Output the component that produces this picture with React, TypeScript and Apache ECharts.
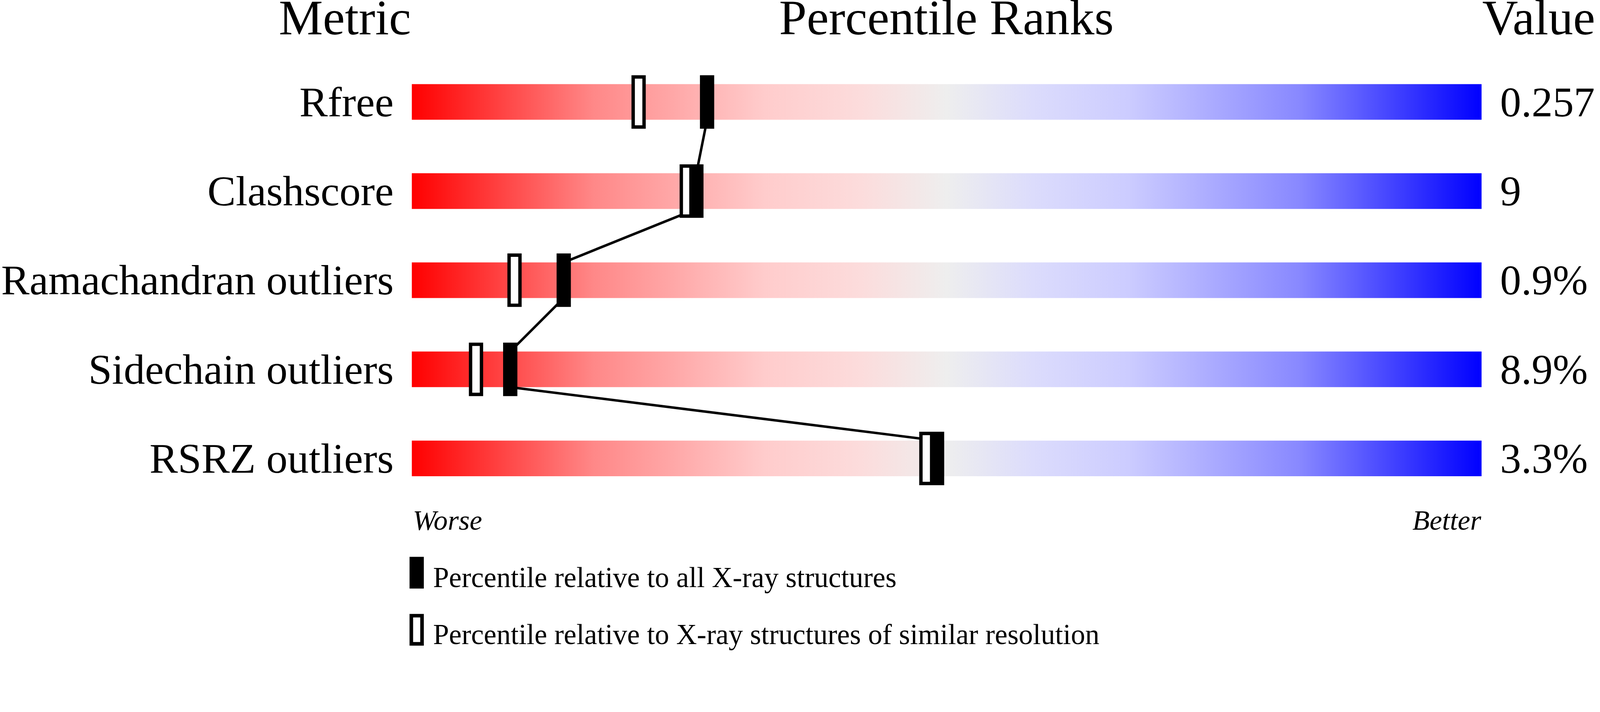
import React, { useEffect, useRef } from 'react';
import * as echarts from 'echarts';

// metric rows, top to bottom
const metrics = ['Rfree', 'Clashscore', 'Ramachandran outliers', 'Sidechain outliers', 'RSRZ outliers'];
const metricValues = ['0.257', '9', '0.9%', '8.9%', '3.3%'];
// percentile ranks
const pctAll = [27.6, 26.6, 14.2, 9.2, 49.1];
const pctSimilar = [21.2, 25.7, 9.6, 6.0, 48.1];
const fullScale = [100, 100, 100, 100, 100];
const legendLabels = [
  'Percentile relative to all X-ray structures',
  'Percentile relative to X-ray structures of similar resolution',
];

const FONT = '"Liberation Serif", "Times New Roman", serif';
const REF_W = 4485;

const App: React.FC = () => {
  const chartRef = useRef<HTMLDivElement>(null);

  useEffect(() => {
    if (!chartRef.current) return;
    const chart = echarts.init(chartRef.current, undefined, { renderer: 'svg' });
    // layout was measured on the 4485px picture; scale to the real css width
    const s = chartRef.current.clientWidth / REF_W;
    const k = (v: number) => v * s;

    const gradient = new echarts.graphic.LinearGradient(0, 0, 1, 0, [
      { offset: 0, color: '#ff0000' },
      { offset: 0.17, color: '#ff8888' },
      { offset: 0.33, color: '#ffcccc' },
      { offset: 0.42, color: '#fcdcdc' },
      { offset: 0.5, color: '#eeeeee' },
      { offset: 0.58, color: '#dcdcfc' },
      { offset: 0.67, color: '#ccccff' },
      { offset: 0.83, color: '#8888ff' },
      { offset: 1, color: '#0000ff' },
    ]);

    const links = pctAll.slice(0, -1).map((p, i) => [p, i, pctAll[i + 1], i + 1]);

    const label = (size: number, margin: number) => ({
      fontSize: k(size),
      fontFamily: FONT,
      color: '#000',
      margin: k(margin),
      padding: [k(20), 0, 0, 0],
    });

    const text = (str: string, x: number, baseline: number, size: number, align: string, italic = false) => ({
      type: 'text',
      x: k(x),
      y: k(baseline - 0.3375 * size),
      style: {
        text: str,
        fontSize: k(size),
        fontStyle: italic ? 'italic' : 'normal',
        fontFamily: FONT,
        fill: '#000',
        textAlign: align,
        textVerticalAlign: 'middle',
      },
    });

    const option = {
      animation: false,
      grid: { left: k(1153), right: k(332), top: k(161), height: k(1250) },
      xAxis: { type: 'value', min: 0, max: 100, show: false },
      yAxis: [
        {
          type: 'category',
          data: metrics,
          inverse: true,
          axisLine: { show: false },
          axisTick: { show: false },
          splitLine: { show: false },
          axisLabel: label(119, 51),
        },
        {
          type: 'category',
          data: metricValues,
          inverse: true,
          position: 'right',
          axisLine: { show: false },
          axisTick: { show: false },
          splitLine: { show: false },
          axisLabel: label(118, 52),
        },
      ],
      series: [
        {
          type: 'bar',
          data: fullScale,
          barWidth: k(100),
          silent: true,
          z: 1,
          itemStyle: { color: gradient },
        },
        {
          type: 'custom',
          z: 2,
          silent: true,
          encode: { x: [0, 2], y: [1, 3] },
          data: links,
          renderItem: (params: any, api: any) => {
            const a = api.coord([api.value(0), api.value(1)]);
            const b = api.coord([api.value(2), api.value(3)]);
            const half = api.size([0, 1])[1] * 0.2;
            return {
              type: 'line',
              shape: { x1: a[0], y1: a[1] + half, x2: b[0], y2: b[1] - half },
              style: { stroke: '#000', lineWidth: k(7) },
            };
          },
        },
        {
          // open marker: black frame
          name: legendLabels[1],
          type: 'scatter',
          z: 3,
          silent: true,
          symbol: 'rect',
          symbolSize: [k(40), k(150)],
          data: pctSimilar.map((p, i) => [p, i]),
          itemStyle: { color: '#000', opacity: 1 },
        },
        {
          // open marker: white inside
          type: 'scatter',
          z: 3,
          zlevel: 0,
          silent: true,
          symbol: 'rect',
          symbolSize: [k(21), k(131)],
          data: pctSimilar.map((p, i) => [p, i]),
          itemStyle: { color: '#fff', opacity: 1 },
        },
        {
          name: legendLabels[0],
          type: 'scatter',
          z: 4,
          silent: true,
          symbol: 'rect',
          symbolSize: [k(40), k(150)],
          data: pctAll.map((p, i) => [p, i]),
          itemStyle: { color: '#000', opacity: 1 },
        },
      ],
      graphic: [
        text('Metric', 1152, 96, 139, 'right'),
        text('Percentile Ranks', 2653, 96, 139, 'center'),
        text('Value', 4155, 96, 139, 'left'),
        text('Worse', 1157, 1486, 79, 'left', true),
        text('Better', 4152, 1486, 79, 'right', true),
        {
          type: 'rect',
          shape: { x: k(1148), y: k(1562), width: k(40), height: k(89) },
          style: { fill: '#000' },
        },
        text(legendLabels[0], 1214, 1647, 80, 'left'),
        {
          type: 'rect',
          shape: { x: k(1153), y: k(1727), width: k(30), height: k(79) },
          style: { fill: '#fff', stroke: '#000', lineWidth: k(10) },
        },
        text(legendLabels[1], 1214, 1807, 80, 'left'),
      ],
    };

    chart.setOption(option);

    return () => {
      chart.dispose();
    };
  }, []);

  return (
    <div
      ref={chartRef}
      style={{ position: 'fixed', left: 0, top: 0, width: '100vw', height: '100vh', background: '#fff' }}
    />
  );
};

export default App;
